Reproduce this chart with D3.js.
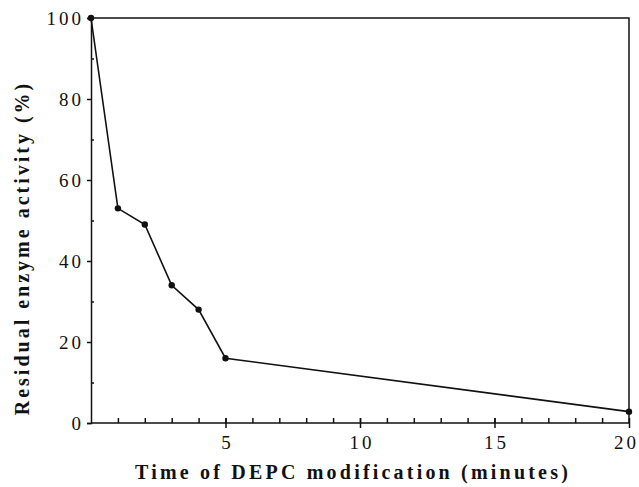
<!DOCTYPE html>
<html>
<head>
<meta charset="utf-8">
<script src="https://cdn.jsdelivr.net/npm/d3@7"></script>
<style>
  body { margin: 0; background: #fff; }
  svg text { font-family: "Liberation Serif", "Times New Roman", Times, serif !important; fill: #111; }
  .axis path, .axis line { stroke: #111; stroke-width: 1.5; }
</style>
</head>
<body>
<svg width="639" height="487"></svg>
<script>
"use strict";

var minutes = [0, 1, 2, 3, 4, 5, 20];
var activity = [100, 53, 49, 34, 28, 16, 2.8];
var xMajorTicks = [5, 10, 15, 20];
var yMajorTicks = [0, 20, 40, 60, 80, 100];
var yMinorTicks = [10, 30, 50, 70, 90];
var xLabel = "Time of DEPC modification (minutes)";
var yLabel = "Residual enzyme activity (%)";

var margin = { top: 18, right: 10, bottom: 64, left: 91 };
var width = 639 - margin.left - margin.right;
var height = 487 - margin.top - margin.bottom;

var svg = d3.select("svg");
var g = svg.append("g")
    .attr("transform", "translate(" + margin.left + "," + margin.top + ")");

var x = d3.scaleLinear().domain([0, 20]).range([0, width]);
var y = d3.scaleLinear().domain([0, 100]).range([height, 0]);

// frame (top and right)
g.append("path")
    .attr("d", "M0,0H" + width + "V" + height)
    .attr("fill", "none")
    .attr("stroke", "#111")
    .attr("stroke-width", 1.5);

// y axis: major ticks outward with labels, minor inward
g.append("g")
    .attr("class", "axis")
    .call(d3.axisLeft(y).tickValues(yMajorTicks).tickSize(4).tickPadding(6))
    .call(function (s) {
        s.selectAll("text")
            .attr("font-size", 19)
            .attr("letter-spacing", 3)
            .attr("dx", 3);
    });

g.append("g")
    .attr("class", "axis")
    .call(d3.axisLeft(y).tickValues(yMinorTicks).tickSize(-3).tickFormat(""))
    .select(".domain").remove();

// x axis: minor ticks inward every minute, major ticks crossing
g.append("g")
    .attr("class", "axis")
    .attr("transform", "translate(0," + height + ")")
    .call(d3.axisBottom(x).tickValues(d3.range(1, 20)).tickSize(-5).tickFormat(""))
    .call(function (s) { s.select(".domain").attr("d", "M0,0H" + width); });

var xMaj = g.append("g")
    .attr("class", "axis")
    .attr("transform", "translate(0," + height + ")")
    .call(d3.axisBottom(x).tickValues(xMajorTicks).tickSize(5).tickPadding(8));
xMaj.select(".domain").remove();
xMaj.selectAll(".tick line").attr("y1", -5);
xMaj.selectAll("text")
    .attr("font-size", 19)
    .attr("letter-spacing", 3)
    .attr("dx", function (d) { return d === 20 ? -3 : 1.5; });

// data line
var line = d3.line()
    .x(function (d, i) { return x(minutes[i]); })
    .y(function (d) { return y(d); });

g.append("path")
    .datum(activity)
    .attr("d", line)
    .attr("fill", "none")
    .attr("stroke", "#111")
    .attr("stroke-width", 1.6);

g.selectAll("circle.pt")
    .data(activity)
    .enter()
    .append("circle")
    .classed("pt", true)
    .attr("cx", function (d, i) { return x(minutes[i]); })
    .attr("cy", function (d) { return y(d); })
    .attr("r", 3.2)
    .attr("fill", "#111");

// axis titles
svg.append("text")
    .attr("x", 353)
    .attr("y", 479)
    .attr("text-anchor", "middle")
    .attr("font-size", 20)
    .attr("font-weight", "bold")
    .attr("letter-spacing", 3.2)
    .text(xLabel);

svg.append("text")
    .attr("transform", "translate(29,248) rotate(-90)")
    .attr("text-anchor", "middle")
    .attr("font-size", 20)
    .attr("font-weight", "bold")
    .attr("letter-spacing", 3)
    .text(yLabel);
</script>
</body>
</html>
